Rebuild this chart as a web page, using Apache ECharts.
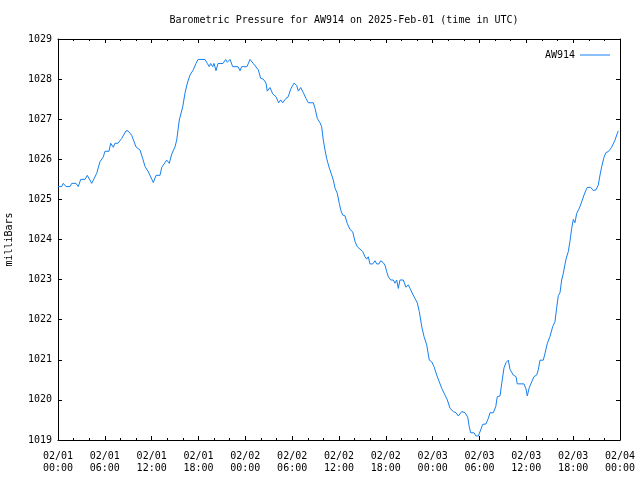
<!DOCTYPE html>
<html>
<head>
<meta charset="utf-8">
<script src="https://cdn.jsdelivr.net/npm/echarts@6/dist/echarts.min.js"></script>
<style>html,body{margin:0;padding:0;background:#fff}#c{width:640px;height:480px}</style>
</head>
<body>
<div id="c"></div>
<script>
var titleText = 'Barometric Pressure for AW914 on 2025-Feb-01 (time in UTC)';
var seriesName = 'AW914';
var yName = 'milliBars';
var xTickLabels = ['02/01\n00:00','02/01\n06:00','02/01\n12:00','02/01\n18:00','02/02\n00:00','02/02\n06:00','02/02\n12:00','02/02\n18:00','02/03\n00:00','02/03\n06:00','02/03\n12:00','02/03\n18:00','02/04\n00:00'];
// hours since 2025-02-01 00:00 UTC
var hours = [0,0.47,0.68,1.02,1.54,1.76,2.31,2.60,2.91,3.46,3.75,4.32,4.52,4.96,5.38,5.80,6.02,6.53,6.75,7.08,7.30,7.69,8.16,8.71,8.97,9.44,9.65,9.99,10.51,10.85,11.15,11.57,12.21,12.56,13.07,13.29,13.93,14.26,14.57,14.99,15.21,15.54,15.98,16.27,16.57,16.91,17.33,17.68,17.94,18.83,19.13,19.38,19.56,19.82,19.99,20.24,20.50,21.14,21.48,21.69,22.04,22.38,23.06,23.32,23.53,24.21,24.60,25.02,25.24,25.66,25.97,26.30,26.65,26.81,27.16,27.51,27.93,28.27,28.53,28.79,29.21,29.50,29.81,30.24,30.58,30.79,31.09,31.43,31.77,32.07,32.71,32.93,33.22,33.57,33.78,33.99,34.21,34.42,34.76,35.06,35.27,35.49,35.78,36.04,36.22,36.47,36.77,37.06,37.41,37.76,38.05,38.34,38.69,39.04,39.33,39.55,39.75,39.97,40.32,40.61,40.83,41.12,41.34,41.68,41.89,42.11,42.32,42.62,42.96,43.17,43.39,43.60,43.81,44.03,44.24,44.58,44.88,45.10,45.44,45.74,46.03,46.29,46.60,46.89,47.24,47.57,47.88,48.17,48.52,48.85,49.16,49.58,49.88,50.22,50.64,50.99,51.28,51.50,51.72,52.14,52.49,52.69,52.87,53.30,53.55,53.85,54.15,54.41,54.83,55.13,55.35,55.77,56.08,56.28,56.63,56.84,57.14,57.40,57.69,57.91,58.33,58.68,58.84,59.70,59.96,60.12,60.38,60.69,60.98,61.33,61.53,61.75,62.17,62.39,62.69,63.03,63.38,63.67,63.89,64.10,64.31,64.53,64.74,65.08,65.38,65.59,65.81,66.02,66.23,66.45,66.79,67.09,67.39,67.64,67.81,68.25,68.58,68.93,69.22,69.44,69.66,69.95,70.21,70.50,70.93,71.14,71.36,71.66,71.78];
var pressure = [1025.32,1025.32,1025.40,1025.32,1025.32,1025.40,1025.40,1025.32,1025.50,1025.50,1025.60,1025.40,1025.40,1025.65,1025.94,1026.06,1026.20,1026.20,1026.40,1026.30,1026.40,1026.40,1026.52,1026.71,1026.71,1026.60,1026.58,1026.31,1026.23,1026.02,1025.82,1025.69,1025.42,1025.60,1025.60,1025.80,1025.98,1025.90,1026.13,1026.31,1026.48,1026.98,1027.31,1027.65,1027.90,1028.10,1028.23,1028.39,1028.49,1028.49,1028.39,1028.31,1028.39,1028.31,1028.39,1028.21,1028.39,1028.39,1028.49,1028.42,1028.49,1028.31,1028.31,1028.21,1028.31,1028.31,1028.49,1028.39,1028.35,1028.23,1028.02,1028.00,1027.90,1027.70,1027.79,1027.63,1027.56,1027.41,1027.48,1027.41,1027.52,1027.56,1027.75,1027.90,1027.84,1027.70,1027.79,1027.66,1027.52,1027.41,1027.41,1027.27,1027.02,1026.91,1026.81,1026.48,1026.23,1026.02,1025.78,1025.61,1025.48,1025.28,1025.15,1024.90,1024.74,1024.61,1024.59,1024.40,1024.25,1024.19,1023.95,1023.82,1023.76,1023.70,1023.57,1023.51,1023.57,1023.39,1023.39,1023.47,1023.39,1023.39,1023.47,1023.42,1023.36,1023.20,1023.07,1022.99,1022.99,1022.91,1022.99,1022.78,1022.99,1022.95,1022.99,1022.81,1022.87,1022.78,1022.64,1022.53,1022.42,1022.20,1021.83,1021.58,1021.37,1020.99,1020.95,1020.83,1020.62,1020.45,1020.29,1020.12,1020.00,1019.79,1019.71,1019.68,1019.60,1019.65,1019.71,1019.68,1019.57,1019.33,1019.18,1019.18,1019.10,1019.10,1019.25,1019.39,1019.40,1019.54,1019.68,1019.68,1019.83,1020.08,1020.10,1020.40,1020.80,1020.93,1020.99,1020.76,1020.62,1020.58,1020.40,1020.40,1020.27,1020.10,1020.31,1020.45,1020.58,1020.62,1020.75,1020.99,1020.99,1021.16,1021.41,1021.58,1021.83,1021.95,1022.30,1022.60,1022.67,1022.99,1023.16,1023.51,1023.70,1023.95,1024.28,1024.50,1024.42,1024.65,1024.78,1024.94,1025.11,1025.23,1025.30,1025.30,1025.22,1025.24,1025.36,1025.61,1025.82,1026.05,1026.17,1026.19,1026.30,1026.30,1026.48,1026.65,1026.71];

var FONT = 'DejaVu Sans Mono';
var pts = hours.map(function (h, i) { return [h, pressure[i]]; });

var chart = echarts.init(document.getElementById('c'), null, {renderer: 'canvas'});
var xCommon = {
  type: 'value', min: 0, max: 72, interval: 6,
  axisLine: {show: true, onZero: false, lineStyle: {color: '#000', width: 1}},
  axisTick: {show: true, inside: true, length: 4, lineStyle: {color: '#000'}},
  minorTick: {show: true, splitNumber: 3, length: 2, lineStyle: {color: '#000'}},
  splitLine: {show: false}, minorSplitLine: {show: false}
};
var yCommon = {
  type: 'value', min: 1019, max: 1029, interval: 1,
  axisLine: {show: true, onZero: false, lineStyle: {color: '#000', width: 1}},
  axisTick: {show: true, inside: true, length: 4, lineStyle: {color: '#000'}},
  splitLine: {show: false}
};
chart.setOption({
  animation: false,
  backgroundColor: '#fff',
  title: {
    text: titleText, left: 339, top: 10, textAlign: 'center',
    textStyle: {fontFamily: FONT, fontSize: 10, fontWeight: 'normal', color: '#000'}
  },
  legend: {
    data: [seriesName], right: 25, top: 45, align: 'right',
    icon: 'rect', itemWidth: 30, itemHeight: 1, itemGap: 5,
    textStyle: {fontFamily: FONT, fontSize: 10, color: '#000', padding: [0, 0, 0, 0]}
  },
  grid: {left: 58, right: 20, top: 39, bottom: 40, containLabel: false, outerBoundsMode: 'none'},
  xAxis: [
    Object.assign({}, xCommon, {
      position: 'bottom',
      axisLabel: {
        fontFamily: FONT, fontSize: 10, color: '#000', margin: 10, lineHeight: 12,
        formatter: function (v) { return xTickLabels[Math.round(v / 6)]; }
      }
    }),
    Object.assign({}, xCommon, {position: 'top', axisLabel: {show: false}})
  ],
  yAxis: [
    Object.assign({}, yCommon, {
      position: 'left',
      name: yName, nameLocation: 'middle', nameGap: 44, nameRotate: 90,
      nameTextStyle: {fontFamily: FONT, fontSize: 10, color: '#000'},
      axisLabel: {fontFamily: FONT, fontSize: 10, color: '#000', margin: 6,
        formatter: function (v) { return String(v); }}
    }),
    Object.assign({}, yCommon, {position: 'right', axisLabel: {show: false}})
  ],
  series: [{
    name: seriesName, type: 'line', data: pts, xAxisIndex: 0, yAxisIndex: 0,
    showSymbol: false, symbol: 'none', smooth: false,
    lineStyle: {color: '#1580f0', width: 1}, itemStyle: {color: '#1580f0'}
  }]
});
</script>
</body>
</html>
